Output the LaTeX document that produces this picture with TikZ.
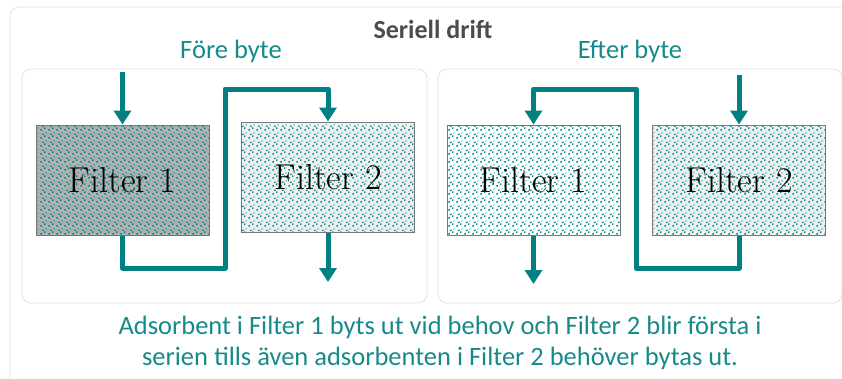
\documentclass[tikz,border=0pt]{standalone}
\usepackage{fontspec}
\newfontfamily\calfont{Carlito}
\usetikzlibrary{positioning,patterns,arrows.meta}

\definecolor{tealc}{RGB}{0,128,128}
\definecolor{captc}{RGB}{22,138,138}
\definecolor{boxgrey}{RGB}{120,120,120}
\definecolor{panelgrey}{RGB}{225,225,225}
\definecolor{usedgrey}{RGB}{176,176,176}
\definecolor{halfgrey}{RGB}{240,240,240}

% sparse teal dots like the reference fill
\pgfdeclarepatternformonly{tealdots}{\pgfpoint{0pt}{0pt}}{\pgfpoint{8pt}{8pt}}{\pgfpoint{8pt}{8pt}}{
  \pgfpathrectangle{\pgfpoint{0.5pt}{0.5pt}}{\pgfpoint{1.5pt}{1.5pt}}
  \pgfpathrectangle{\pgfpoint{4.5pt}{2.5pt}}{\pgfpoint{1.5pt}{1.5pt}}
  \pgfpathrectangle{\pgfpoint{2.5pt}{4.5pt}}{\pgfpoint{1.5pt}{1.5pt}}
  \pgfpathrectangle{\pgfpoint{6.2pt}{6.2pt}}{\pgfpoint{1.3pt}{1.3pt}}
  \pgfusepath{fill}}

\begin{document}
\begin{tikzpicture}[x=1pt,y=-1pt,node distance =3pt and 205.5pt ,on grid ,
flow/.style ={draw=tealc, line width=5pt, line join=round,
  -{Triangle[length=14pt,width=17pt]}},
panel/.style ={draw=panelgrey, rounded corners=9pt, line width=0.8pt},
filterbox/.style ={draw=boxgrey, line width=1pt, minimum width=173pt,
  minimum height=110pt, pattern=tealdots, pattern color=tealc,
  font=\fontsize{36}{40}\selectfont},
head/.style ={text=captc, font=\calfont\fontsize{26.5}{31}\selectfont}]
\useasboundingbox (0,0) rectangle (842,378);
% frames
\draw[panel] (10,7) rectangle (860,390);
\draw[panel] (22,69) rectangle (427,303);
\draw[panel] (438,69) rectangle (842,303);
\node (title) at (433,29) {\calfont\bfseries\fontsize{26}{30}\selectfont\color{black!70}Seriell drift};
\node[head] (fore) at (231,51) {Före byte};
\node[head] (efter) at (630,51) {Efter byte};
% filters
\node[filterbox, preaction={fill=usedgrey}] (f1a) at (122.5,180) {Filter 1};
\node[filterbox, preaction={fill=halfgrey}] (f2a) [above right =of f1a] {Filter 2};
\node[filterbox, preaction={fill=white}] (f1b) at (533.5,180) {Filter 1};
\node[filterbox, preaction={fill=halfgrey}] (f2b) [right =of f1b] {Filter 2};
% before
\coordinate (ina) at (122.5,72);
\coordinate (ka) at (225,268);
\coordinate (kb) at (225,89);
\coordinate (outa) at (328,282);
\draw[flow] (ina) -- (f1a);
\draw[flow] (f1a.south) |- (ka) -- (kb) -| (f2a.north);
\draw[flow] (f2a) -- (outa);
% after
\coordinate (inb) at (739,75);
\coordinate (kc) at (636,268);
\coordinate (kd) at (636,89);
\coordinate (outb) at (533.5,284);
\draw[flow] (inb) -- (f2b);
\draw[flow] (f2b.south) |- (kc) -- (kd) -| (f1b.north);
\draw[flow] (f1b) -- (outb);
% caption
\node[head, align=center] (note) at (440,343)
  {Adsorbent i Filter 1 byts ut vid behov och Filter 2 blir första i\\
   serien tills även adsorbenten i Filter 2 behöver bytas ut.};
\end{tikzpicture}
\end{document}
